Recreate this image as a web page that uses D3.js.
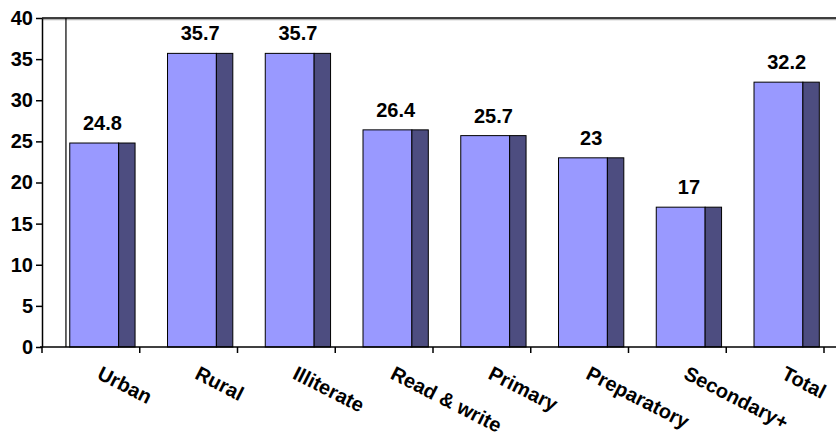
<!DOCTYPE html>
<html>
<head>
<meta charset="utf-8">
<script src="https://cdn.jsdelivr.net/npm/d3@7/dist/d3.min.js"></script>
<style>
  html, body { margin: 0; padding: 0; background: #fff; }
  svg { display: block; font-family: "Liberation Sans", Arial, sans-serif; }
</style>
</head>
<body>
<svg id="chart" width="836" height="438"></svg>
<script>
// Categories and their values (percent)
const categories = ["Urban", "Rural", "Illiterate", "Read & write", "Primary", "Preparatory", "Secondary+", "Total"];
const values = [24.8, 35.7, 35.7, 26.4, 25.7, 23, 17, 32.2];
const yTicks = [0, 5, 10, 15, 20, 25, 30, 35, 40];

const svg = d3.select("#chart");
const W = 836;

const x = d3.scaleBand().domain(categories).range([42, 824]).paddingInner(0).paddingOuter(0);
const y = d3.scaleLinear().domain([0, 40]).range([347, 18]);
const bw = x.bandwidth();

const frontColor = "#9999ff";
const sideColor = "#4d4d80";

// Frame: top edge with a soft shadow, inner wall line
svg.append("line")
  .attr("x1", x.range()[0]).attr("x2", W)
  .attr("y1", y(40) + 1.5).attr("y2", y(40) + 1.5)
  .attr("stroke", "#b0b0b0").attr("stroke-width", 1.5);
svg.append("line")
  .attr("x1", x.range()[0]).attr("x2", W)
  .attr("y1", y(40)).attr("y2", y(40))
  .attr("stroke", "#000").attr("stroke-width", 1.5);
svg.append("line")
  .attr("x1", x.range()[0] + bw * 0.245).attr("x2", x.range()[0] + bw * 0.245)
  .attr("y1", y(40)).attr("y2", y(0))
  .attr("stroke", "#000").attr("stroke-width", 1.2);

// Bars: front face plus darker side face
const bars = svg.append("g").selectAll("g")
  .data(categories.map((c, i) => ({ c, v: values[i] })))
  .join("g");

bars.append("rect")
  .attr("x", d => x(d.c) + bw * 0.284)
  .attr("y", d => y(d.v))
  .attr("width", bw * 0.5)
  .attr("height", d => y(0) - y(d.v))
  .attr("fill", frontColor)
  .attr("stroke", "#000").attr("stroke-width", 1);

bars.append("rect")
  .attr("x", d => x(d.c) + bw * 0.784)
  .attr("y", d => y(d.v))
  .attr("width", bw * 0.168)
  .attr("height", d => y(0) - y(d.v))
  .attr("fill", sideColor)
  .attr("stroke", "#000").attr("stroke-width", 1);

// Value labels
bars.append("text")
  .attr("x", d => x(d.c) + bw * (0.284 + 0.952) / 2)
  .attr("y", d => y(d.v) - 13)
  .attr("text-anchor", "middle")
  .attr("font-size", 20).attr("font-weight", "bold")
  .text(d => d.v);

// Y axis
const yAxis = svg.append("g")
  .attr("transform", `translate(${x.range()[0]},0)`)
  .call(d3.axisLeft(y).tickValues(yTicks).tickSize(6).tickPadding(3).tickSizeOuter(0));
yAxis.attr("font-size", 20).attr("font-family", "Liberation Sans, Arial, sans-serif");
yAxis.select(".domain").attr("stroke", "#000").attr("stroke-width", 1.5);
yAxis.selectAll(".tick line").attr("stroke", "#000").attr("stroke-width", 1.5);
yAxis.selectAll(".tick text")
  .attr("font-weight", "bold").attr("fill", "#000");

// X axis line and tick marks at category boundaries
svg.append("line")
  .attr("x1", x.range()[0] - 2).attr("x2", W)
  .attr("y1", y(0)).attr("y2", y(0))
  .attr("stroke", "#000").attr("stroke-width", 1.5);
const bounds = categories.map(c => x(c)).concat([x.range()[1]]);
svg.append("g").selectAll("line")
  .data(bounds)
  .join("line")
  .attr("x1", d => d).attr("x2", d => d)
  .attr("y1", y(0)).attr("y2", y(0) + 6)
  .attr("stroke", "#000").attr("stroke-width", 1.5);

// Rotated category labels
svg.append("g").selectAll("text")
  .data(categories)
  .join("text")
  .attr("transform", c => `translate(${x(c) + bw / 2 + 5},378) rotate(27)`)
  .attr("font-size", 20).attr("font-weight", "bold")
  .text(c => c);
</script>
</body>
</html>
